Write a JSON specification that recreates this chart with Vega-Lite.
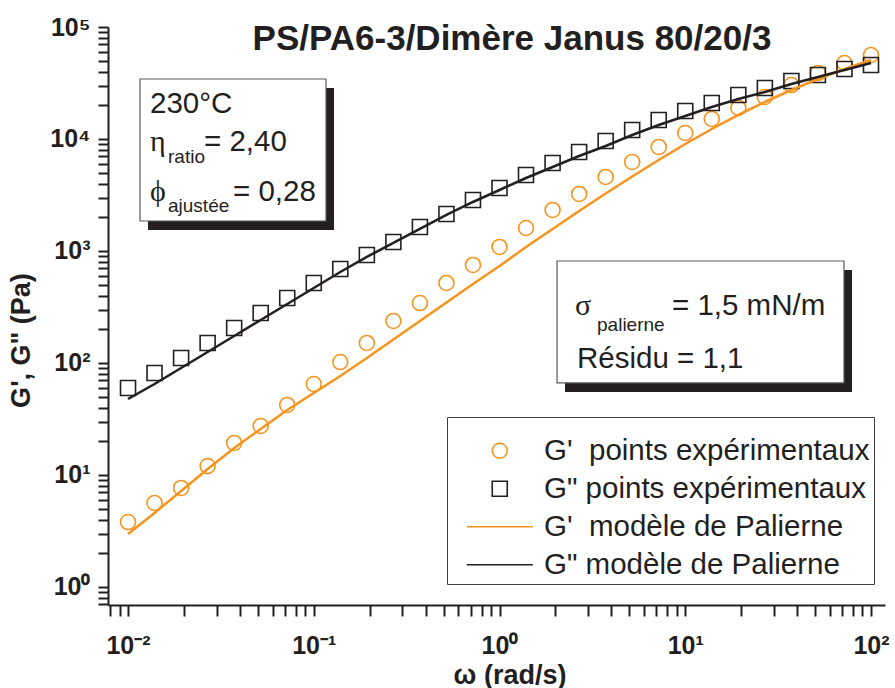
{
"$schema":"https://vega.github.io/schema/vega-lite/v6.json",
"width":777,"height":578,
"autosize":{"type":"none"},
"padding":{"left":108,"top":27,"right":10,"bottom":83},
"background":"white",
"config":{"view":{"stroke":null},"font":"Liberation Sans"},
"datasets":{
 "meas":[
  {"w":0.01,"gp":3.8,"gpp":59.8},{"w":0.01389,"gp":5.62,"gpp":81.4},{"w":0.01931,"gp":7.65,"gpp":110.8},{"w":0.02683,"gp":12.0,"gpp":150.9},
  {"w":0.03728,"gp":19.3,"gpp":205.4},{"w":0.05179,"gp":27.4,"gpp":279.5},{"w":0.07197,"gp":42.2,"gpp":380.4},{"w":0.1,"gp":64.9,"gpp":517.8},
  {"w":0.1389,"gp":102,"gpp":690.9},{"w":0.1931,"gp":151,"gpp":920.9},{"w":0.2683,"gp":237,"gpp":1203},{"w":0.3728,"gp":343,"gpp":1638},
  {"w":0.5179,"gp":518,"gpp":2139},{"w":0.7197,"gp":750,"gpp":2852},{"w":1,"gp":1086,"gpp":3651},{"w":1.389,"gp":1604,"gpp":4771},
  {"w":1.931,"gp":2323,"gpp":6106},{"w":2.683,"gp":3228,"gpp":7656},{"w":3.728,"gp":4580,"gpp":9595},{"w":5.179,"gp":6236,"gpp":12030},
  {"w":7.197,"gp":8483,"gpp":14790},{"w":10,"gp":11320,"gpp":17780},{"w":13.89,"gp":15090,"gpp":20960},{"w":19.31,"gp":18920,"gpp":24720},
  {"w":26.83,"gp":23710,"gpp":28520},{"w":37.28,"gp":30340,"gpp":32960},{"w":51.79,"gp":38830,"gpp":37280},{"w":71.97,"gp":47700,"gpp":42170},
  {"w":100,"gp":56230,"gpp":45800}
 ],
 "model":[
  {"w":0.01,"mp":2.97,"mpp":47.7},{"w":0.01389,"mp":4.58,"mpp":64.9},{"w":0.01931,"mp":7.2,"mpp":90.2},{"w":0.02683,"mp":11.31,"mpp":125.4},
  {"w":0.03728,"mp":17.42,"mpp":174.2},{"w":0.05179,"mp":25.75,"mpp":242.0},{"w":0.07197,"mp":38.06,"mpp":336.3},{"w":0.1,"mp":53.97,"mpp":467.3},
  {"w":0.1389,"mp":76.5,"mpp":649.4},{"w":0.1931,"mp":110.8,"mpp":884.1},{"w":0.2683,"mp":162.1,"mpp":1179},{"w":0.3728,"mp":237.1,"mpp":1572},
  {"w":0.5179,"mp":347.0,"mpp":2096},{"w":0.7197,"mp":507.5,"mpp":2738},{"w":1,"mp":734.8,"mpp":3504},{"w":1.389,"mp":1086,"mpp":4485},
  {"w":1.931,"mp":1572,"mpp":5623},{"w":2.683,"mp":2276,"mpp":7049},{"w":3.728,"mp":3262,"mpp":8660},{"w":5.179,"mp":4626,"mpp":10860},
  {"w":7.197,"mp":6494,"mpp":13340},{"w":10,"mp":9023,"mpp":16050},{"w":13.89,"mp":12285,"mpp":19310},{"w":19.31,"mp":16380,"mpp":22760},
  {"w":26.83,"mp":21400,"mpp":26280},{"w":37.28,"mp":27380,"mpp":30980},{"w":51.79,"mp":34340,"mpp":35780},{"w":71.97,"mp":42170,"mpp":41320},
  {"w":100,"mp":50750,"mpp":47700}
 ],
 "boxes":[{"x1":0.011604,"x2":0.11641,"y1":34340,"y2":1853},{"x1":2.0397,"x2":71.55,"y1":814.1,"y2":66.3}],
 "notes":[{"x":0.013135,"y":17068,"t":"230°C"},{"x":0.025652,"y":7815,"t":"= 2,40"},{"x":0.036752,"y":2795,"t":"= 0,28"},{"x":8.4837,"y":268.3,"t":"= 1,5 mN/m"},{"x":2.6139,"y":90.23,"t":"Résidu = 1,1"}],
 "subs":[{"x":0.016418,"y":6105,"t":"ratio"},{"x":0.016418,"y":2230,"t":"ajustée"},{"x":3.3497,"y":193.1,"t":"palierne"}],
 "greek":[{"x":0.013135,"y":7815,"t":"η"},{"x":0.013135,"y":2795,"t":"ϕ"},{"x":2.5498,"y":268.3,"t":"σ"}],
 "heading":[{"x":1.1675,"y":62330,"t":"PS/PA6-3/Dimère Janus 80/20/3"}]
},
"layer":[
 {"data":{"name":"boxes"},
  "mark":{"type":"rect","fill":"#231f20","xOffset":8,"x2Offset":8,"yOffset":9,"y2Offset":9},
  "encoding":{
   "x":{"field":"x1","type":"quantitative","scale":{"type":"log","domain":[0.007802,118.96],"nice":false}},
   "x2":{"field":"x2"},
   "y":{"field":"y1","type":"quantitative","scale":{"type":"log","domain":[0.69,100000],"nice":false}},
   "y2":{"field":"y2"}}},
 {"data":{"name":"boxes"},
  "mark":{"type":"rect","fill":"white","stroke":"#58595b","strokeWidth":1.2},
  "encoding":{
   "x":{"field":"x1","type":"quantitative","scale":{"type":"log","domain":[0.007802,118.96],"nice":false}},
   "x2":{"field":"x2"},
   "y":{"field":"y1","type":"quantitative","scale":{"type":"log","domain":[0.69,100000],"nice":false}},
   "y2":{"field":"y2"}}},
 {"data":{"name":"meas"},
  "transform":[{"fold":["gp","gpp"],"as":["series","G"]}],
  "mark":{"type":"point","filled":false,"size":225,"strokeWidth":1.6,"opacity":1},
  "encoding":{
   "x":{"field":"w","type":"quantitative","scale":{"type":"log","domain":[0.007802,118.96],"nice":false},
    "axis":{"title":"ω (rad/s)","grid":false,
     "values":[0.008,0.009,0.01,0.02,0.03,0.04,0.05,0.06,0.07,0.08,0.09,0.1,0.2,0.3,0.4,0.5,0.6,0.7,0.8,0.9,1,2,3,4,5,6,7,8,9,10,20,30,40,50,60,70,80,90,100],
     "labelExpr":"abs(log(datum.value)/LN10 - round(log(datum.value)/LN10)) < 0.001 ? '10' + ['⁻²','⁻¹','⁰','¹','²','³','⁴','⁵'][round(log(datum.value)/LN10)+2] : ''",
     "labelFont":"Liberation Sans","labelFontWeight":"bold","labelFontSize":25,"labelColor":"#231f20","labelPadding":17,"labelOverlap":false,"labelFlush":false,
     "domainColor":"#231f20","domainWidth":2,"tickColor":"#231f20","tickWidth":2,"tickSize":11,
     "encode":{"ticks":{"update":{"y2":{"condition":{"test":"abs(log(datum.value)/LN10 - round(log(datum.value)/LN10)) < 0.001","value":11},"value":6}}}},
     "titleFont":"Liberation Sans","titleFontWeight":"bold","titleFontSize":27,"titleColor":"#231f20","titleX":401.5,"titleY":78,"titleBaseline":"alphabetic","titleAlign":"center"}},
   "y":{"field":"G","type":"quantitative","scale":{"type":"log","domain":[0.69,100000],"nice":false},
    "axis":{"title":"G', G\" (Pa)","grid":false,
     "values":[0.7,0.8,0.9,1,2,3,4,5,6,7,8,9,10,20,30,40,50,60,70,80,90,100,200,300,400,500,600,700,800,900,1000,2000,3000,4000,5000,6000,7000,8000,9000,10000,20000,30000,40000,50000,60000,70000,80000,90000,100000],
     "labelExpr":"abs(log(datum.value)/LN10 - round(log(datum.value)/LN10)) < 0.001 ? '10' + ['⁻²','⁻¹','⁰','¹','²','³','⁴','⁵'][round(log(datum.value)/LN10)+2] : ''",
     "labelFont":"Liberation Sans","labelFontWeight":"bold","labelFontSize":25,"labelColor":"#231f20","labelPadding":8,"labelOverlap":false,"labelFlush":false,
     "domainColor":"#231f20","domainWidth":2,"tickColor":"#231f20","tickWidth":2,"tickSize":10,
     "encode":{"ticks":{"update":{"x2":{"condition":{"test":"abs(log(datum.value)/LN10 - round(log(datum.value)/LN10)) < 0.001","value":-10},"value":-5}}}},
     "titleFont":"Liberation Sans","titleFontWeight":"bold","titleFontSize":27,"titleColor":"#231f20","titleX":-87,"titleY":313,"titleAngle":-90,"titleBaseline":"middle","titleAlign":"center"}},
   "color":{"field":"series","type":"nominal",
    "scale":{"domain":["gp","gpp","mp","mpp"],"range":["#f7941d","#231f20","#f7941d","#231f20"]},
    "legend":{"orient":"none","legendX":339,"legendY":390,"direction":"vertical","title":" ","titleFontSize":10,"titlePadding":5,"padding":4,
     "strokeColor":"#414042","fillColor":"white","labelFont":"Liberation Sans","labelFontSize":29.5,"labelColor":"#231f20","labelLimit":600,
     "rowPadding":7,"symbolSize":225,"symbolOffset":34,"labelOffset":29.5,"symbolStrokeWidth":1.6,
     "labelExpr":"datum.value == 'gp' ? \"G'\u00a0 points expérimentaux\" : datum.value == 'gpp' ? 'G\" points expérimentaux' : datum.value == 'mp' ? \"G'\u00a0 modèle de Palierne\" : 'G\" modèle de Palierne'",
     "encode":{"symbols":{"update":{"fill":{"value":"transparent"},"opacity":{"value":1},
      "strokeWidth":{"condition":{"test":"datum.value == 'mp' || datum.value == 'mpp'","value":3},"value":1.6}}}}}},
   "shape":{"field":"series","type":"nominal",
    "scale":{"domain":["gp","gpp","mp","mpp"],"range":["circle","square","M-4.4,0H4.4","M-4.4,0H4.4"]},
    "legend":{"orient":"none","legendX":339,"legendY":390,"direction":"vertical","title":" ","titleFontSize":10,"titlePadding":5,"padding":4,
     "strokeColor":"#414042","fillColor":"white","labelFont":"Liberation Sans","labelFontSize":29.5,"labelColor":"#231f20","labelLimit":600,
     "rowPadding":7,"symbolSize":225,"symbolOffset":34,"labelOffset":29.5,"symbolStrokeWidth":1.6,
     "labelExpr":"datum.value == 'gp' ? \"G'\u00a0 points expérimentaux\" : datum.value == 'gpp' ? 'G\" points expérimentaux' : datum.value == 'mp' ? \"G'\u00a0 modèle de Palierne\" : 'G\" modèle de Palierne'",
     "encode":{"symbols":{"update":{"fill":{"value":"transparent"},"opacity":{"value":1},
      "strokeWidth":{"condition":{"test":"datum.value == 'mp' || datum.value == 'mpp'","value":3},"value":1.6}}}}}}
  }},
 {"data":{"name":"model"},
  "transform":[{"fold":["mp","mpp"],"as":["series","G"]}],
  "mark":{"type":"line","strokeWidth":2.5},
  "encoding":{
   "x":{"field":"w","type":"quantitative","scale":{"type":"log","domain":[0.007802,118.96],"nice":false}},
   "y":{"field":"G","type":"quantitative","scale":{"type":"log","domain":[0.69,100000],"nice":false}},
   "color":{"field":"series","type":"nominal",
    "scale":{"domain":["gp","gpp","mp","mpp"],"range":["#f7941d","#231f20","#f7941d","#231f20"]},
    "legend":{"orient":"none","legendX":339,"legendY":390,"direction":"vertical","title":" ","titleFontSize":10,"titlePadding":5,"padding":4,
     "strokeColor":"#414042","fillColor":"white","labelFont":"Liberation Sans","labelFontSize":29.5,"labelColor":"#231f20","labelLimit":600,
     "rowPadding":7,"symbolSize":225,"symbolOffset":34,"labelOffset":29.5,"symbolStrokeWidth":1.6,
     "labelExpr":"datum.value == 'gp' ? \"G'\u00a0 points expérimentaux\" : datum.value == 'gpp' ? 'G\" points expérimentaux' : datum.value == 'mp' ? \"G'\u00a0 modèle de Palierne\" : 'G\" modèle de Palierne'",
     "encode":{"symbols":{"update":{"fill":{"value":"transparent"},"opacity":{"value":1},
      "strokeWidth":{"condition":{"test":"datum.value == 'mp' || datum.value == 'mpp'","value":3},"value":1.6}}}}}}
  }},
 {"data":{"name":"notes"},
  "mark":{"type":"text","align":"left","baseline":"alphabetic","fontSize":29.5,"font":"Liberation Sans","color":"#231f20"},
  "encoding":{
   "x":{"field":"x","type":"quantitative","scale":{"type":"log","domain":[0.007802,118.96],"nice":false}},
   "y":{"field":"y","type":"quantitative","scale":{"type":"log","domain":[0.69,100000],"nice":false}},
   "text":{"field":"t"}}},
 {"data":{"name":"subs"},
  "mark":{"type":"text","align":"left","baseline":"alphabetic","fontSize":19,"font":"Liberation Sans","color":"#231f20"},
  "encoding":{
   "x":{"field":"x","type":"quantitative","scale":{"type":"log","domain":[0.007802,118.96],"nice":false}},
   "y":{"field":"y","type":"quantitative","scale":{"type":"log","domain":[0.69,100000],"nice":false}},
   "text":{"field":"t"}}},
 {"data":{"name":"greek"},
  "mark":{"type":"text","align":"left","baseline":"alphabetic","fontSize":30,"font":"Liberation Serif","color":"#231f20"},
  "encoding":{
   "x":{"field":"x","type":"quantitative","scale":{"type":"log","domain":[0.007802,118.96],"nice":false}},
   "y":{"field":"y","type":"quantitative","scale":{"type":"log","domain":[0.69,100000],"nice":false}},
   "text":{"field":"t"}}},
 {"data":{"name":"heading"},
  "mark":{"type":"text","align":"center","baseline":"alphabetic","fontSize":35,"fontWeight":"bold","font":"Liberation Sans","color":"#231f20"},
  "encoding":{
   "x":{"field":"x","type":"quantitative","scale":{"type":"log","domain":[0.007802,118.96],"nice":false}},
   "y":{"field":"y","type":"quantitative","scale":{"type":"log","domain":[0.69,100000],"nice":false}},
   "text":{"field":"t"}}}
]
}
